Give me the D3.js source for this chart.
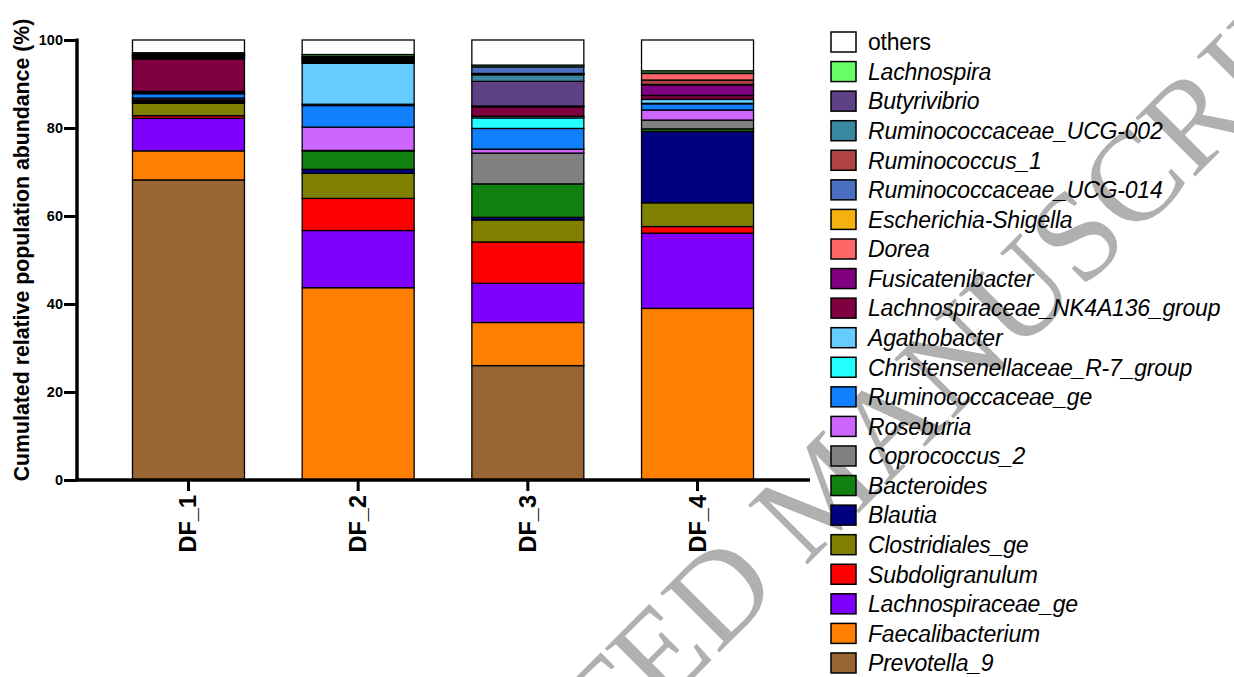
<!DOCTYPE html>
<html>
<head>
<meta charset="utf-8">
<script src="https://cdn.jsdelivr.net/npm/d3@7"></script>
<style>
  body { margin: 0; background: #fff; }
  svg { display: block; font-family: "Liberation Sans", Arial, sans-serif; }
</style>
</head>
<body>
<svg id="chart" width="1234" height="677"></svg>
<script>
// samples on the x axis
var samples = ["DF_1", "DF_2", "DF_3", "DF_4"];

// taxa in stacking order, bottom to top
var taxa = ["Prevotella_9", "Faecalibacterium", "Lachnospiraceae_ge", "Subdoligranulum",
    "Clostridiales_ge", "Blautia", "Bacteroides", "Coprococcus_2", "Roseburia",
    "Ruminococcaceae_ge", "Christensenellaceae_R-7_group", "Agathobacter",
    "Lachnospiraceae_NK4A136_group", "Fusicatenibacter", "Butyrivibrio",
    "Ruminococcaceae_UCG-002", "Ruminococcus_1", "Dorea", "Escherichia-Shigella",
    "Ruminococcaceae_UCG-014", "Lachnospira", "others"];

var colors = ["#996633", "#ff8000", "#8000ff", "#ff0000",
    "#808000", "#000080", "#108010", "#808080", "#cc66ff",
    "#1180ff", "#22ffff", "#66ccff",
    "#800040", "#800080", "#5e4086",
    "#3a87a0", "#b04444", "#ff6666", "#f5b10f",
    "#4a6fbf", "#66ff66", "#ffffff"];

// legend, top to bottom
var legendOrder = ["others", "Lachnospira", "Butyrivibrio", "Ruminococcaceae_UCG-002",
    "Ruminococcus_1", "Ruminococcaceae_UCG-014", "Escherichia-Shigella", "Dorea",
    "Fusicatenibacter", "Lachnospiraceae_NK4A136_group", "Agathobacter",
    "Christensenellaceae_R-7_group", "Ruminococcaceae_ge", "Roseburia", "Coprococcus_2",
    "Bacteroides", "Blautia", "Clostridiales_ge", "Subdoligranulum", "Lachnospiraceae_ge",
    "Faecalibacterium", "Prevotella_9"];

// relative abundance (%) per sample, same order as taxa
var df1 = [68.2, 6.6, 7.4, 0.6, 2.8, 0.3, 0.3, 0.2, 0.4, 1.0, 0.2, 0.3,
    7.4, 0.2, 0.1, 0.3, 0.1, 0.1, 0.1, 0.2, 0.3, 2.9];
var df2 = [0, 43.7, 13.0, 7.3, 5.7, 0.9, 4.2, 0.1, 5.3, 4.9, 0.3, 9.3,
    0.3, 0.2, 0.3, 0.2, 0.1, 0.1, 0.1, 0.3, 0.4, 3.3];
var df3 = [26.0, 9.8, 8.9, 9.4, 5.0, 0.6, 7.6, 7.0, 0.9, 4.7, 2.4, 0.4,
    2.1, 0.2, 5.6, 1.5, 0.1, 0.1, 0.1, 1.5, 0.4, 5.7];
var df4 = [0, 39.0, 17.1, 1.5, 5.4, 16.2, 0.6, 2.0, 2.3, 1.4, 0.1, 0.9,
    0.9, 2.4, 0, 0.1, 1.0, 1.5, 0.1, 0, 0.5, 7.0];

var yTicks = [0, 20, 40, 60, 80, 100];

var svg = d3.select("#chart");

// watermark goes behind everything
svg.append("text")
    .attr("transform", "translate(821,490) rotate(-45)")
    .attr("text-anchor", "middle")
    .attr("dominant-baseline", "central")
    .attr("font-family", "Liberation Serif, Times New Roman, serif")
    .attr("font-size", 128)
    .attr("fill", "#b0b0b0")
    .text("ACCEPTED MANUSCRIPT");

// build table for d3.stack
var allValues = [df1, df2, df3, df4];
var table = samples.map(function(s, i){
    var row = {sample: s};
    taxa.forEach(function(t, j){ row[t] = allValues[i][j]; });
    return row;
});

var color = d3.scaleOrdinal().domain(taxa).range(colors);

var x = d3.scaleBand().domain(samples).range([77, 809])
    .paddingInner(0.34).paddingOuter(0.327);
var y = d3.scaleLinear().domain([0, 100]).range([480, 40]);

var series = d3.stack().keys(taxa)(table);

// bars
var layers = svg.append("g").selectAll("g")
    .data(series)
    .enter().append("g")
    .attr("fill", function(d){ return color(d.key); });

layers.selectAll("rect")
    .data(function(d){ return d.filter(function(p){ return p[1] - p[0] > 0; }); })
    .enter().append("rect")
    .attr("x", function(d){ return x(d.data.sample); })
    .attr("width", x.bandwidth())
    .attr("y", function(d){ return y(d[1]); })
    .attr("height", function(d){ return y(d[0]) - y(d[1]); })
    .attr("stroke", "#000")
    .attr("stroke-width", 1.3);

// y axis
var yAxis = svg.append("g")
    .attr("transform", "translate(77,0)")
    .call(d3.axisLeft(y).tickValues(yTicks).tickSize(13).tickPadding(1));
yAxis.select(".domain").attr("stroke-width", 3.5).attr("d", "M0,38.5V480");
yAxis.selectAll(".tick line").attr("stroke-width", 3);
yAxis.selectAll(".tick text")
    .attr("font-size", 14.5).attr("font-weight", "bold").attr("fill", "#000")
    .attr("font-family", "Liberation Sans, Arial, sans-serif");

// x axis
var xAxis = svg.append("g")
    .attr("transform", "translate(0,480)")
    .call(d3.axisBottom(x).tickSize(11).tickPadding(4));
xAxis.select(".domain").attr("stroke-width", 3.5).attr("d", "M75.5,0H810");
xAxis.selectAll(".tick line").attr("stroke-width", 3);
xAxis.selectAll(".tick text")
    .attr("font-size", 23.5).attr("font-weight", "bold").attr("fill", "#000")
    .attr("font-family", "Liberation Sans, Arial, sans-serif")
    .attr("text-anchor", "end")
    .attr("dominant-baseline", "central")
    .attr("transform", "translate(0,15) rotate(-90)")
    .attr("x", 0).attr("y", 0).attr("dy", null);

// y axis title
svg.append("text")
    .attr("transform", "translate(29,250) rotate(-90)")
    .attr("text-anchor", "middle")
    .attr("font-size", 21.3)
    .attr("font-weight", "bold")
    .text("Cumulated relative population abundance (%)");

// legend
var legend = svg.append("g").selectAll("g")
    .data(legendOrder)
    .enter().append("g")
    .attr("transform", function(d, i){ return "translate(831," + (42 + i * 29.57) + ")"; });

legend.append("rect")
    .attr("x", 0).attr("y", -10)
    .attr("width", 25).attr("height", 20)
    .attr("fill", function(d){ return color(d); })
    .attr("stroke", "#000")
    .attr("stroke-width", 1.5);

legend.append("text")
    .attr("x", 37)
    .attr("dy", "0.36em")
    .attr("font-size", 23)
    .attr("font-style", function(d){ return d === "others" ? "normal" : "italic"; })
    .attr("letter-spacing", -0.2)
    .text(function(d){ return d; });
</script>
</body>
</html>
